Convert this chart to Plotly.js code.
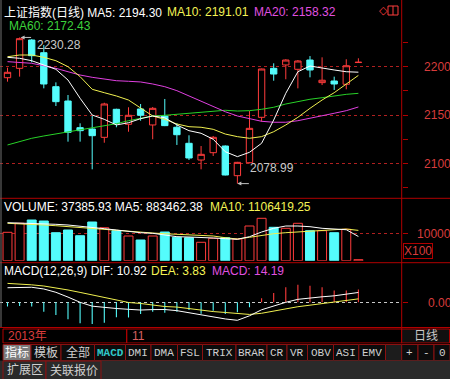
<!DOCTYPE html>
<html><head><meta charset="utf-8">
<script src="https://cdn.plot.ly/plotly-3.0.1.min.js"></script>
<style>html,body{margin:0;padding:0;background:#000;overflow:hidden}#chart{width:450px;height:379px}</style>
</head><body><div id="chart"></div>
<script>
// ---------- data ----------
const days = [0,1,2,3,4,5,6,7,8,9,10,11,12,13,14,15,16,17,18,19,20,21,22,23,24,25,26,27,28,29];
const openP  = [2188.6,2198.3,2227.6,2214.5,2179.3,2164.5,2136.9,2135.5,2126.9,2155.9,2140.4,2156.2,2139.7,2149.0,2137.3,2120.7,2103.4,2111.0,2117.9,2087.2,2100.6,2147.6,2198.3,2201.8,2197.3,2206.9,2183.5,2185.2,2181.8,2204.3];
const highP  = [2199.0,2230.28,2228.5,2222.5,2183.8,2170.7,2141.4,2149.0,2162.7,2156.5,2158.0,2161.4,2158.3,2166.6,2141.4,2129.0,2117.9,2128.3,2118.5,2101.5,2154.1,2198.0,2203.5,2207.7,2206.9,2211.0,2209.7,2189.7,2207.7,2208.7];
const lowP   = [2184.5,2189.7,2204.5,2177.6,2159.3,2122.4,2122.4,2093.8,2121.3,2137.3,2132.7,2144.1,2124.9,2138.5,2119.0,2103.4,2093.8,2107.6,2087.5,2078.99,2100.0,2143.1,2185.5,2187.0,2177.6,2189.0,2181.0,2175.9,2176.6,2204.3];
const closeP = [2194.2,2229.0,2211.4,2182.1,2163.8,2132.1,2133.8,2128.6,2161.4,2141.4,2149.7,2149.7,2156.9,2139.0,2129.6,2105.5,2109.3,2126.9,2087.9,2101.0,2136.2,2197.6,2192.4,2206.9,2205.9,2196.6,2186.0,2182.1,2201.0,2204.6];
const ma5  = [2209.7,2208.7,2206.2,2201.8,2197.3,2186.2,2167.3,2150.0,2145.5,2139.7,2142.0,2146.2,2149.0,2147.2,2139.7,2133.8,2131.1,2124.9,2112.0,2106.9,2111.4,2120.7,2144.8,2172.5,2194.8,2200.7,2198.3,2196.6,2194.8,2194.30];
const ma10 = [2210.3,2212.1,2212.1,2209.7,2206.2,2200.0,2189.7,2176.6,2173.1,2169.7,2165.5,2156.9,2149.0,2145.5,2140.7,2137.9,2137.3,2135.2,2130.3,2127.6,2125.9,2127.6,2132.7,2139.7,2147.6,2156.9,2165.5,2173.1,2182.1,2191.01];
const ma20 = [2205.2,2204.5,2203.5,2201.0,2198.3,2194.8,2191.4,2189.0,2187.0,2185.5,2184.9,2184.2,2182.1,2179.3,2175.2,2169.7,2164.8,2158.6,2153.4,2149.0,2146.6,2143.5,2142.5,2142.5,2144.1,2146.9,2149.7,2151.8,2154.5,2158.32];
const ma60 = [2119.0,2122.4,2125.9,2128.3,2130.3,2132.4,2134.5,2136.9,2138.6,2141.0,2144.1,2146.9,2149.0,2149.7,2150.7,2151.8,2152.8,2154.1,2154.9,2154.1,2154.5,2155.9,2158.0,2161.4,2163.8,2166.3,2167.9,2169.7,2171.4,2172.43];
const volume  = [1036000,1365000,1485000,1449000,1022000,1120000,912000,1412000,1204000,1095000,901000,755000,901000,1047000,854000,839000,672000,818000,839000,792000,1266000,1547000,1219000,1182000,1365000,1095000,1095000,1022000,1146000,37385.93];
const volMa5  = [1387000,1376000,1365000,1350000,1328000,1303000,1266000,1219000,1168000,1120000,1058000,1022000,1000000,938000,876000,865000,854000,828000,803000,781000,876000,1047000,1182000,1266000,1266000,1241000,1182000,1146000,1131000,883462.38];
const volMa10 = [1365000,1350000,1328000,1303000,1277000,1241000,1204000,1168000,1131000,1109000,1073000,1036000,1011000,985000,963000,949000,938000,901000,839000,792000,854000,927000,985000,1022000,1047000,1073000,1109000,1131000,1157000,1106419.25];
const dif  = [16.2,16.8,16.7,14.8,11.1,5.8,0,-4.3,-5.9,-6.9,-7.8,-8.6,-8.1,-8.0,-9.3,-11.5,-14.0,-16.5,-18.5,-20.0,-15.0,-8.3,-3.9,0,3.3,5.0,6.1,7.2,8.9,10.92];
const dea  = [21.0,20.4,19.4,18.1,16.2,13.7,11.0,8.1,5.3,2.4,-0.2,-1.3,-2.9,-4.7,-5.3,-7.0,-9.2,-10.3,-11.3,-12.6,-13.5,-12.2,-9.6,-7.3,-4.9,-3.2,-1.6,0.2,1.6,3.83];
const macd = [-4.8,-4.1,-4.8,-10.4,-14.1,-18.9,-23.3,-24.1,-22.6,-16.7,-17.0,-13.0,-10.4,-11.5,-10.4,-8.5,-12.6,-9.3,-13.0,-11.1,-5.6,4.4,10.4,16.7,19.6,18.5,16.7,13.0,13.0,14.19];
const priceTicks = [2100,2150,2200];
const volTicks = [1000000]; const volTickText = ['10000'];
const macdTicks = [0]; const macdTickText = ['0.00'];
const headerTitle = '上证指数(日线)';
const lastMA = {ma5:'2194.30', ma10:'2191.01', ma20:'2158.32', ma60:'2172.43'};
const lastVol = {vol:'37385.93', ma5:'883462.38', ma10:'1106419.25'};
const lastMacd = {dif:'10.92', dea:'3.83', macd:'14.19'};
const hiIdx = 1, loIdx = 19;
const yearLabel = '2013年', monthLabel = '11', monthIdx = 10, periodLabel = '日线';
const buttons = ['指标','模板','全部','MACD','DMI','DMA','FSL','TRIX','BRAR','CR','VR','OBV','ASI','EMV','','+','-','0'];
const buttonEdges = [3,31,61,94.5,125.5,151,177.5,202.5,236,267,287,307.5,333.5,358.8,385.5,401.7,418,434,450];
const extraTabs = ['扩展区','关联报价'];
const extraEdges = [3,46,101];

// ---------- styling ----------
const W = 450, H = 379;
const RED = '#ff3c3c', CYAN = '#54fcfc', FRAME = '#b00000', AX = '#d83c3c', GRID = '#b02020';
const F = 'Liberation Sans, Noto Sans CJK SC, sans-serif';
const FM = 'Liberation Mono, DejaVu Sans Mono, Noto Sans CJK SC, monospace';
const px = v => v / W, py = v => 1 - v / H;
const up = days.map(i => closeP[i] >= openP[i]);

const traces = [
  {type:'candlestick', x:days, open:openP, high:highP, low:lowP, close:closeP, xaxis:'x', yaxis:'y',
   increasing:{line:{color:RED,width:1}, fillcolor:'#000'}, decreasing:{line:{color:CYAN,width:1}, fillcolor:CYAN},
   whiskerwidth:0, hoverinfo:'skip', showlegend:false},
  {type:'scatter', mode:'lines', x:days, y:ma60, line:{color:'#28d228',width:1}, yaxis:'y', hoverinfo:'skip'},
  {type:'scatter', mode:'lines', x:days, y:ma20, line:{color:'#e040e0',width:1}, yaxis:'y', hoverinfo:'skip'},
  {type:'scatter', mode:'lines', x:days, y:ma10, line:{color:'#f0f050',width:1}, yaxis:'y', hoverinfo:'skip'},
  {type:'scatter', mode:'lines', x:days, y:ma5, line:{color:'#ffffff',width:1}, yaxis:'y', hoverinfo:'skip'},
  {type:'bar', x:days, y:volume, yaxis:'y2', width:0.74,
   marker:{color:up.map(u => u ? '#000' : CYAN), line:{color:up.map(u => u ? RED : CYAN), width:1}}, hoverinfo:'skip'},
  {type:'scatter', mode:'lines', x:days, y:volMa10, line:{color:'#f0f050',width:1}, yaxis:'y2', hoverinfo:'skip'},
  {type:'scatter', mode:'lines', x:days, y:volMa5, line:{color:'#ffffff',width:1}, yaxis:'y2', hoverinfo:'skip'},
  {type:'bar', x:days, y:macd, yaxis:'y3', width:0.09,
   marker:{color:macd.map(v => v >= 0 ? RED : CYAN), line:{width:0}}, hoverinfo:'skip'},
  {type:'scatter', mode:'lines', x:days, y:dea, line:{color:'#f0f050',width:1}, yaxis:'y3', hoverinfo:'skip'},
  {type:'scatter', mode:'lines', x:days, y:dif, line:{color:'#ffffff',width:1}, yaxis:'y3', hoverinfo:'skip'}
];

const yCommon = {side:'right', anchor:'x', ticks:'outside', ticklen:5, tickcolor:FRAME, tickwidth:1,
  showline:false, zeroline:false, gridwidth:1, griddash:'dot', fixedrange:true,
  tickfont:{family:F, size:12, color:AX}};

const layout = {
  width:W, height:H, margin:{l:0,r:0,t:0,b:0}, paper_bgcolor:'#000', plot_bgcolor:'#000',
  showlegend:false, boxgap:0.25, barmode:'overlay', font:{family:F},
  xaxis:{domain:[0, px(401.7)], range:[-0.62, 32.58], anchor:'y3', showticklabels:false, ticks:'',
    showgrid:false, zeroline:false, showline:false, rangeslider:{visible:false}, fixedrange:true},
  yaxis:Object.assign({}, yCommon, {domain:[py(196), py(20)], range:[2066.17, 2248.33], tickmode:'array',
    tickvals:priceTicks, showgrid:true, gridcolor:GRID, ticklabelstandoff:14,
    minor:{tickmode:'linear', tick0:2000, dtick:25, ticks:'outside', ticklen:5, tickcolor:FRAME, showgrid:false}}),
  yaxis2:Object.assign({}, yCommon, {domain:[py(260.7), py(199)], range:[0, 2251800], tickmode:'array',
    tickvals:volTicks, ticktext:volTickText, showgrid:true, gridcolor:GRID, ticklabelstandoff:7}),
  yaxis3:Object.assign({}, yCommon, {domain:[py(327), py(264)], range:[-27.44, 42.56], tickmode:'array',
    tickvals:macdTicks, ticktext:macdTickText, showgrid:true, gridcolor:'#c8c8c8', ticklabelstandoff:18}),
  shapes:[], annotations:[]
};

const S = layout.shapes, A = layout.annotations;
function line(x0,y0,x1,y1,c,w){S.push({type:'line',xref:'paper',yref:'paper',x0:px(x0),y0:py(y0),x1:px(x1),y1:py(y1),line:{color:c,width:w||1}});}
function rect(x0,y0,x1,y1,c,fill){S.push({type:'rect',xref:'paper',yref:'paper',x0:px(x0),y0:py(y0),x1:px(x1),y1:py(y1),line:{color:c,width:1},fillcolor:fill||'rgba(0,0,0,0)'});}
function txt(x,y,t,c,opt){A.push(Object.assign({xref:'paper',yref:'paper',x:px(x),y:py(y),text:t,showarrow:false,
  xanchor:'left',yanchor:'middle',font:{family:F,size:12,color:c}}, opt||{}));}

// frame
line(401.7,0,401.7,344,FRAME);
line(0,198.3,W,198.3,FRAME);
line(0,262.7,W,262.7,FRAME);
line(0,327.5,W,327.5,FRAME);
line(1,0,1,327,'#707070');
// header icons
rect(388,6,398,15,RED); line(393,6,393,15,RED);
txt(377,10.5,'◇',RED,{font:{family:'DejaVu Sans',size:11,color:RED}});

// headers
txt(2,12,headerTitle+' MA5: '+lastMA.ma5,'#ffffff');
txt(164.5,12,'MA10: '+lastMA.ma10,'#f4f454');
txt(251.5,12,'MA20: '+lastMA.ma20,'#e050e0');
txt(6.5,25.5,'MA60: '+lastMA.ma60,'#3cd23c');
txt(2,206.5,'VOLUME: '+lastVol.vol+' MA5: '+lastVol.ma5,'#ffffff');
txt(207.5,206.5,'MA10: '+lastVol.ma10,'#f4f454');
txt(2,271,'MACD(12,26,9) DIF: '+lastMacd.dif,'#ffffff');
txt(148.5,271,'DEA: '+lastMacd.dea,'#f4f454');
txt(209.5,271,'MACD: '+lastMacd.macd,'#e050e0');
// X100 box
A.push({xref:'paper',yref:'paper',x:px(417.8),y:py(251.2),text:'X100',showarrow:false,xanchor:'center',yanchor:'middle',
  font:{family:F,size:12,color:AX},bordercolor:FRAME,borderwidth:1,borderpad:0,bgcolor:'#000'});

// high / low markers
A.push({xref:'x',yref:'y',x:hiIdx,y:highP[hiIdx],ax:13,ay:0,text:'',showarrow:true,arrowhead:2,arrowsize:0.8,arrowwidth:1,arrowcolor:'#c0c0c0',standoff:1});
A.push({xref:'x',yref:'y',x:hiIdx,y:highP[hiIdx],text:highP[hiIdx].toFixed(2),showarrow:false,xanchor:'left',yanchor:'middle',xshift:15,yshift:-7.5,font:{family:F,size:12,color:'#c8c8c8'}});
A.push({xref:'x',yref:'y',x:loIdx,y:lowP[loIdx],ax:13,ay:0,text:'',showarrow:true,arrowhead:2,arrowsize:0.8,arrowwidth:1,arrowcolor:'#c0c0c0',standoff:0,yshift:0});
A.push({xref:'x',yref:'y',x:loIdx,y:lowP[loIdx],text:lowP[loIdx].toFixed(2),showarrow:false,xanchor:'left',yanchor:'middle',xshift:11,yshift:15.5,font:{family:F,size:12,color:'#c8c8c8'}});

// date row
rect(3,329,126.7,343,FRAME); rect(126.7,329,401.7,343,FRAME);
rect(401.7,329,449.5,343,FRAME,'#101010');
txt(6,336,yearLabel,'#d83c3c');
A.push({xref:'x',yref:'paper',x:monthIdx,y:py(336),text:monthLabel,showarrow:false,xanchor:'left',yanchor:'middle',xshift:1,font:{family:F,size:12,color:'#d86060'}});
A.push({xref:'paper',yref:'paper',x:px(425.5),y:py(336),text:periodLabel,showarrow:false,xanchor:'center',yanchor:'middle',font:{family:F,size:12,color:'#c8c8c8'}});

// button row
rect(0,344,W,360.5,'#000','#000');
buttons.forEach((b,i) => {
  const x0 = buttonEdges[i], x1 = buttonEdges[i+1];
  const sel = i === 0;
  rect(x0,344.5,x1,360.5,'#8a1010', sel ? '#7c7c7c' : (b === '' ? '#1c1c1c' : '#0c0c0c'));
  if (b !== '') {
    const cjk = /[\u4e00-\u9fff]/.test(b);
    A.push({xref:'paper',yref:'paper',x:px((x0+x1)/2),y:py(352.5),text:b,showarrow:false,xanchor:'center',yanchor:'middle',
      font:{family: cjk ? F : FM, size: cjk ? 12 : 11, color: b === 'MACD' ? '#30c8c8' : (sel ? '#ffffff' : '#d0d0d0'),
      weight: b === 'MACD' ? 700 : 400}});
  }
});
// extension row
rect(0,361,W,379.5,'#2a2a2a','#2a2a2a');
extraTabs.forEach((t,i) => {
  rect(extraEdges[i],361,extraEdges[i+1],379.5,'#8a1010','#2a2a2a');
  A.push({xref:'paper',yref:'paper',x:px((extraEdges[i]+extraEdges[i+1])/2),y:py(370),text:t,showarrow:false,xanchor:'center',yanchor:'middle',
    font:{family:F,size:12,color:'#d0d0d0'}});
});

Plotly.newPlot('chart', traces, layout, {staticPlot:true, displayModeBar:false});
</script></body></html>
